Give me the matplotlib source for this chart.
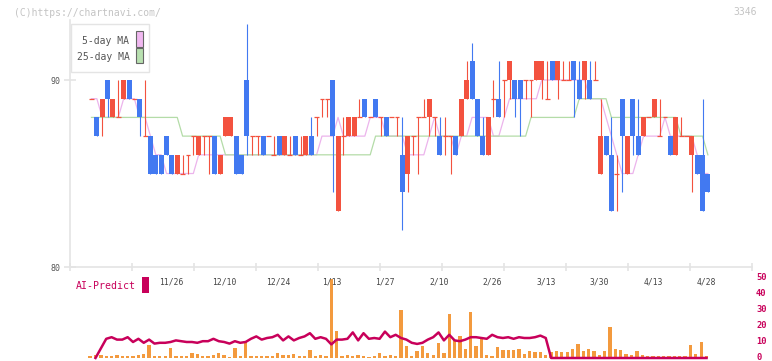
import numpy as np
import matplotlib
matplotlib.use("Agg")
import matplotlib.pyplot as plt
from matplotlib.patches import Rectangle
from matplotlib.transforms import blended_transform_factory

# daily candles (price in yen), oldest first
opens = [89, 88, 88, 90, 88, 88, 89, 90, 89, 89, 87, 87, 86, 86, 87, 86, 85, 85, 86, 87,
         86, 87, 87, 87, 85, 87, 87, 87, 86, 90, 87, 87, 87, 87, 86, 87, 86, 86, 87, 86,
         86, 87, 88, 89, 89, 90, 83, 87, 87, 87, 88, 89, 88, 89, 88, 88, 88, 88, 86, 85,
         87, 88, 88, 88, 88, 87, 87, 87, 87, 87, 89, 91, 89, 87, 86, 89, 89, 90, 90, 90,
         90, 90, 90, 90, 90, 89, 91, 90, 90, 90, 91, 90, 90, 90, 90, 85, 87, 86, 85, 89,
         85, 89, 87, 87, 88, 88, 87, 88, 87, 86, 87, 87, 86, 86, 86, 85]
closes = [89, 87, 89, 89, 89, 88, 90, 89, 89, 88, 87, 85, 85, 85, 86, 85, 86, 85, 86, 87,
          87, 87, 87, 85, 86, 88, 88, 85, 85, 87, 87, 87, 86, 87, 86, 86, 87, 86, 86, 86,
          87, 86, 88, 89, 89, 87, 87, 87, 88, 88, 88, 88, 88, 88, 88, 87, 88, 88, 84, 87,
          87, 88, 88, 89, 88, 86, 87, 87, 86, 89, 90, 89, 87, 86, 88, 89, 88, 90, 91, 89,
          89, 90, 90, 91, 91, 89, 90, 91, 90, 90, 90, 89, 91, 89, 90, 87, 86, 83, 85, 87,
          87, 87, 86, 88, 88, 89, 87, 88, 86, 88, 87, 87, 87, 85, 83, 84]
highs = [89, 88, 89, 90, 89, 90, 90, 90, 89, 89, 90, 87, 86, 86, 87, 86, 86, 86, 86, 87,
         87, 87, 87, 87, 86, 88, 88, 87, 86, 93, 87, 87, 87, 87, 87, 87, 87, 87, 87, 87,
         87, 88, 88, 89, 89, 90, 87, 88, 88, 88, 89, 89, 88, 89, 88, 88, 88, 88, 88, 87,
         87, 88, 89, 89, 88, 88, 88, 87, 87, 89, 91, 92, 89, 88, 88, 90, 91, 90, 91, 90,
         90, 90, 90, 91, 91, 91, 91, 91, 91, 91, 91, 91, 91, 91, 91, 89, 87, 88, 86, 89,
         87, 89, 89, 88, 88, 89, 89, 88, 87, 88, 88, 87, 87, 86, 89, 85]
lows = [89, 87, 87, 88, 88, 88, 89, 89, 89, 87, 87, 85, 85, 85, 86, 85, 85, 85, 85, 86,
        86, 86, 85, 85, 85, 87, 87, 85, 85, 86, 86, 86, 86, 87, 86, 86, 86, 86, 86, 86,
        86, 86, 87, 88, 88, 84, 83, 86, 87, 87, 88, 88, 88, 88, 87, 87, 88, 87, 82, 84,
        86, 85, 88, 87, 87, 86, 86, 85, 86, 87, 89, 89, 87, 86, 86, 88, 88, 88, 89, 88,
        87, 89, 88, 90, 89, 89, 90, 89, 90, 90, 88, 89, 89, 89, 90, 85, 86, 83, 83, 84,
        85, 86, 86, 87, 88, 88, 87, 88, 86, 86, 87, 87, 84, 85, 83, 84]

ma5 = [89, 89, 88, 88, 88, 88, 89, 89, 89, 88, 88, 87, 86, 86, 85, 85, 85, 85, 85, 85,
       86, 86, 86, 86, 86, 86, 86, 86, 86, 86, 86, 86, 86, 86, 86, 86, 86, 86, 86, 86,
       86, 86, 86, 87, 87, 87, 88, 87, 87, 87, 87, 87, 88, 88, 88, 87, 87, 87, 87, 86,
       86, 86, 86, 87, 88, 87, 87, 87, 86, 87, 87, 88, 88, 88, 88, 87, 87, 88, 89, 89,
       89, 89, 89, 89, 90, 90, 90, 90, 90, 90, 90, 90, 90, 89, 89, 89, 88, 87, 86, 85,
       85, 85, 86, 87, 87, 87, 87, 88, 87, 87, 87, 87, 87, 86, 85, 85]
ma25 = [88] * 17 + [87] * 8 + [86] * 28 + [87] * 29 + [88] * 9 + [89] * 6 + [88] * 13 + [87] * 5 + [86]

volume = [1, 2.1, 2, 1, 1, 2, 1, 1.5, 1, 2, 2.7, 8, 1.5, 1.5, 1.5, 6.5, 1.5, 1.5, 1.5, 3,
          2.7, 1.5, 1, 2, 3, 2, 0.5, 6.5, 1.5, 10, 1.5, 1, 1.5, 1.5, 1.5, 3, 2, 2, 2.7, 1,
          1, 5.2, 1.5, 2, 1, 49.4, 17, 1.5, 2, 1, 2, 1.5, 0.6, 1.5, 3, 1.5, 2, 1, 30, 7.3,
          1.5, 4.6, 7.7, 3, 2, 9.4, 3, 27.7, 11.5, 14, 5.8, 29, 7.7, 13, 2, 1, 6.7, 5.2, 5.2, 5.2,
          5.8, 2.7, 4.6, 3.5, 3.5, 2, 3.5, 4.2, 3.5, 3.5, 5.8, 9, 4.2, 5.8, 4.2, 2, 4.6, 19.6, 5.8, 5.2,
          2.7, 2, 4.6, 2, 1.5, 1, 1.5, 1, 1.5, 1.5, 1.5, 1, 8.3, 2.7, 10.2, 1.5]
ai_predict = [np.nan, 0, 6, 12, 13, 11.5, 11.5, 13, 10, 12, 9.5, 11.5, 9, 9.5, 9.5, 10, 11, 10.5, 10, 10,
              9.5, 10.5, 10.5, 12, 10.5, 10, 9, 10.5, 9.5, 10, 12, 13.5, 11.5, 12.5, 13, 14.5, 11, 13.5, 11, 12.5,
              13.5, 15.5, 12, 13, 12, 8.5, 11.5, 11.5, 12, 16, 11, 15.5, 12, 12.5, 12, 16.5, 13, 14.5, 12.5, 11.5,
              9.5, 8.8, 9.5, 11.5, 13, 16, 11, 14.5, 11, 10.5, 11.5, 13, 13, 12.5, 12, 14.5, 13, 12.5, 13, 12,
              13, 12.5, 12.5, 13, 14, 12.5] + [0] * 30

date_labels = ["11/26", "12/10", "12/24", "1/13", "1/27", "2/10", "2/26", "3/13", "3/30", "4/13", "4/28"]
date_index = [15, 25, 35, 45, 55, 65, 75, 85, 95, 105, 115]
right_ticks = [0, 10, 20, 30, 40, 50]

RED = "#f3523f"
BLUE = "#4279f1"
AI = "#c8005a"
GRID = "#e4e4e4"
W, H = 772, 361
MONO = "DejaVu Sans Mono"


def fx(px):
    return px / W


def fy(py):
    return 1 - py / H


def candles(ax, x):
    for i in range(len(x)):
        o, c, h, l = opens[i], closes[i], highs[i], lows[i]
        col = BLUE if c < o else RED
        if h > l:
            ax.vlines(x[i], l, h, color=col, lw=0.8, zorder=3)
        if c == o:
            ax.hlines(o, x[i] - 0.46, x[i] + 0.46, color=col, lw=0.9, zorder=3)
        else:
            ax.bar(x[i], abs(c - o), bottom=min(o, c), width=0.93, color=col, zorder=4, lw=0)


plt.rcParams['font.family'] = [MONO, 'DejaVu Sans']
fig = plt.figure(figsize=(W / 100, H / 100), dpi=100)

x = np.arange(len(opens))
xlim = (-4.01, 123.23)

# price panel
ax = fig.add_axes([fx(70), fy(267), fx(682), 247 / H])
ax.set_xlim(*xlim)
ax.set_ylim(80, 93.21)
candles(ax, x)
ax.plot(x, ma5, color="#ecb4ec", lw=0.9, zorder=2)
ax.plot(x, ma25, color="#b4dca8", lw=0.9, zorder=2)
for s in ["top", "right"]:
    ax.spines[s].set_visible(False)
for s in ["left", "bottom"]:
    ax.spines[s].set_color(GRID)
    ax.spines[s].set_linewidth(1.2)
ax.set_yticks([80, 90])
ax.set_yticklabels(["80", "90"])
ax.set_xticks(np.linspace(xlim[0], xlim[1], 12))
ax.set_xticklabels([])
ax.tick_params(axis="y", direction="inout", length=9, width=1.2, color=GRID,
               labelsize=6, labelcolor="#555555", pad=2)
ax.tick_params(axis="x", direction="inout", length=6, width=1.2, color=GRID)

# AI-Predict / volume panel
ax2 = fig.add_axes([fx(70), fy(358), fx(682), 90 / H])
ax2.set_xlim(*xlim)
ax2.set_ylim(0, 56.25)
ax2.axis("off")
ax2.bar(x - 0.25, volume, width=0.62, color="#f39a3e", zorder=1)
ax2.plot(x - 0.25, ai_predict, color=AI, lw=1.8, zorder=2, clip_on=False)
for d, lab in zip(date_index, date_labels):
    ax2.text(d - 0.2, 47.7, lab, ha="center", va="center", fontsize=5.8, color="#444444")
tr = blended_transform_factory(ax2.transAxes, ax2.transData)
for v in right_ticks:
    ax2.text(1.006, v + 0.6, str(v), transform=tr, ha="left", va="center",
             fontsize=6.3, color=AI, fontweight="bold")

# legend box
fig.patches.append(Rectangle((fx(70.5), fy(71.5)), fx(78), 47.5 / H, transform=fig.transFigure,
                             facecolor="white", edgecolor=GRID, lw=1.0))
fig.text(fx(129.5), fy(41.3), "5-day MA", ha="right", va="center", fontsize=7, color="#555555")
fig.text(fx(129.5), fy(56.7), "25-day MA", ha="right", va="center", fontsize=7, color="#555555")
fig.patches.append(Rectangle((fx(136.3), fy(46.5)), fx(6.2), 15 / H, transform=fig.transFigure,
                             facecolor="#f0b8f0", edgecolor="#666666", lw=0.8))
fig.patches.append(Rectangle((fx(136.3), fy(63.2)), fx(6.2), 15 / H, transform=fig.transFigure,
                             facecolor="#b8e0b0", edgecolor="#666666", lw=0.8))

fig.text(fx(76), fy(286), "AI-Predict", ha="left", va="center", fontsize=7.1, color=AI)
fig.patches.append(Rectangle((fx(142.3), fy(292.7)), fx(6.4), 16 / H, transform=fig.transFigure,
                             facecolor=AI, edgecolor="none"))

fig.text(fx(14), fy(12.7), "(C)https://chartnavi.com/", ha="left", va="center", fontsize=7, color="#c4c4c4")
fig.text(fx(757), fy(12.3), "3346", ha="right", va="center", fontsize=7, color="#c4c4c4")

fig.savefig("out.png", dpi=100)
